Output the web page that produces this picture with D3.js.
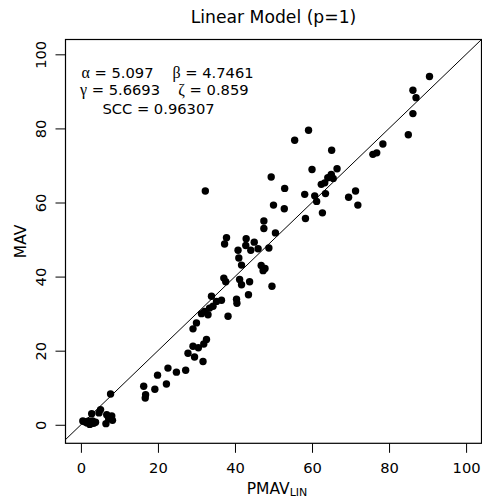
<!DOCTYPE html>
<html>
<head>
<meta charset="utf-8">
<script src="https://cdn.jsdelivr.net/npm/d3@7"></script>
<style>
  body { margin: 0; background: #fff; }
  text { font-family: "DejaVu Sans", sans-serif; fill: #000; }
  .greek { font-family: "Liberation Serif", serif; }
</style>
</head>
<body>
<div id="plot"></div>
<script>
const pmav = [
  0.5, 1.0, 1.6, 2.0, 2.3, 2.8, 3.0, 3.3, 3.8, 4.7, 5.1, 6.5, 6.7, 7.2, 8.0, 8.2, 7.7,
  16.3, 16.8, 16.7, 19.2, 19.9, 22.2, 22.6, 24.8, 27.2, 27.8, 29.5, 29.1, 30.5, 31.7, 31.9, 32.6,
  29.1, 30.0, 31.3, 32.1, 33.0, 33.4, 34.3, 35.2, 33.9, 36.5, 38.2, 40.4, 40.5, 43.5,
  37.1, 37.6, 41.2, 41.7, 43.8, 49.6, 47.3, 47.8, 32.3,
  37.8, 37.3, 40.8, 41.0, 41.7, 42.9, 42.8, 44.1, 45.0, 46.0, 46.8, 48.8, 50.5, 47.5, 47.5,
  49.4, 50.0, 52.9, 52.8, 55.5, 59.1, 58.3, 58.1, 60.0, 60.7, 61.2, 62.4, 62.7, 63.3, 63.5,
  64.1, 65.0, 65.5, 66.5, 65.1, 69.5, 71.3, 71.9,
  75.8, 76.8, 78.4, 85.0, 86.2, 87.0, 86.2, 90.5
];
const mav = [
  1.0, 0.8, 0.5, 1.0, 0.1, 3.0, 1.0, 0.4, 0.7, 3.2, 4.1, 0.3, 2.7, 1.6, 2.4, 1.2, 8.3,
  10.4, 8.1, 7.2, 9.6, 13.4, 11.0, 15.3, 14.2, 14.7, 19.3, 18.3, 21.2, 20.8, 17.1, 21.8, 23.0,
  25.9, 27.5, 30.0, 30.6, 29.7, 31.5, 32.0, 33.3, 34.7, 33.6, 29.3, 33.9, 32.8, 35.1,
  39.6, 38.6, 39.2, 37.8, 38.6, 37.4, 41.6, 42.2, 63.1,
  50.5, 48.8, 47.1, 45.0, 43.1, 50.2, 48.4, 47.1, 49.3, 47.5, 43.0, 47.7, 51.8, 55.0, 53.0,
  66.9, 59.3, 63.8, 58.3, 76.8, 79.5, 55.7, 62.2, 68.9, 61.8, 60.3, 64.9, 57.2, 65.3, 62.4,
  66.7, 67.6, 66.5, 69.1, 74.1, 61.4, 63.1, 59.3,
  73.0, 73.4, 75.8, 78.3, 84.0, 88.3, 90.3, 94.0
];
const tickValues = [0, 20, 40, 60, 80, 100];
const stats = [
  ['α', '5.097'], ['β', '4.7461'], ['γ', '5.6693'], ['ζ', '0.859']
];
const scc = '0.96307';

const W = 482, H = 500;
const box = {left: 65.5, right: 481.5, top: 39.5, bottom: 443.3};

const x = d3.scaleLinear().domain([-4, 104]).range([box.left, box.right]);
const y = d3.scaleLinear().domain([-5, 104]).range([box.bottom, box.top]);

const data = pmav.map((v, i) => ({px: v, obs: mav[i]}));

const svg = d3.select('#plot').append('svg')
  .attr('width', W)
  .attr('height', H);

svg.append('defs').append('clipPath')
  .attr('id', 'clip')
  .append('rect')
  .attr('x', box.left)
  .attr('y', box.top)
  .attr('width', box.right - box.left)
  .attr('height', box.bottom - box.top);

// title
svg.append('text')
  .attr('x', (box.left + box.right) / 2)
  .attr('y', 23)
  .attr('text-anchor', 'middle')
  .style('font-size', '17.2px')
  .text('Linear Model (p=1)');

// x axis, ticks only (no axis line)
const gx = svg.append('g')
  .attr('transform', `translate(0,${box.bottom})`)
  .call(d3.axisBottom(x).tickValues(tickValues).tickSize(9.5).tickPadding(9.5));
gx.select('.domain').remove();
gx.selectAll('text').style('font-size', '14.7px').attr('fill', '#000');

// y axis, labels turned sideways
const gy = svg.append('g')
  .attr('transform', `translate(${box.left},0)`)
  .call(d3.axisLeft(y).tickValues(tickValues).tickSize(10));
gy.select('.domain').remove();
gy.selectAll('text')
  .style('font-size', '14.7px')
  .attr('fill', '#000')
  .attr('transform', 'rotate(-90)')
  .attr('x', 0)
  .attr('y', -19.5)
  .attr('dy', 0)
  .attr('text-anchor', 'middle');

// axis titles
const xl = svg.append('text')
  .attr('x', 277)
  .attr('y', 493.5)
  .attr('text-anchor', 'middle')
  .style('font-size', '15.5px');
xl.append('tspan').text('PMAV');
xl.append('tspan').attr('dy', 2.5).style('font-size', '11px').text('LIN');

svg.append('text')
  .attr('transform', `translate(26,${(box.top + box.bottom) / 2}) rotate(-90)`)
  .attr('text-anchor', 'middle')
  .style('font-size', '15.5px')
  .text('MAV');

// y = x reference line
svg.append('line')
  .attr('clip-path', 'url(#clip)')
  .attr('x1', x(-10)).attr('y1', y(-10))
  .attr('x2', x(110)).attr('y2', y(110))
  .attr('stroke', '#000')
  .attr('stroke-width', 1);

// points
svg.append('g')
  .selectAll('circle')
  .data(data)
  .enter().append('circle')
  .attr('cx', d => x(d.px))
  .attr('cy', d => y(d.obs))
  .attr('r', 3.7)
  .attr('fill', '#000');

// box around the plot
svg.append('rect')
  .attr('x', box.left)
  .attr('y', box.top)
  .attr('width', box.right - box.left)
  .attr('height', box.bottom - box.top)
  .attr('fill', 'none')
  .attr('stroke', '#000')
  .attr('stroke-width', 1.2);

// fitted parameters
const statPos = [[117.5, 77.5], [213, 77.5], [120, 95], [213.5, 95]];
stats.forEach((s, i) => {
  const t = svg.append('text')
    .attr('x', statPos[i][0])
    .attr('y', statPos[i][1])
    .attr('text-anchor', 'middle')
    .style('font-size', '14.7px');
  t.append('tspan').attr('class', 'greek').style('font-size', '16px').text(s[0]);
  t.append('tspan').text(' = ' + s[1]);
});
svg.append('text')
  .attr('x', 158.5)
  .attr('y', 113.5)
  .attr('text-anchor', 'middle')
  .style('font-size', '14.7px')
  .text('SCC = ' + scc);
</script>
</body>
</html>
